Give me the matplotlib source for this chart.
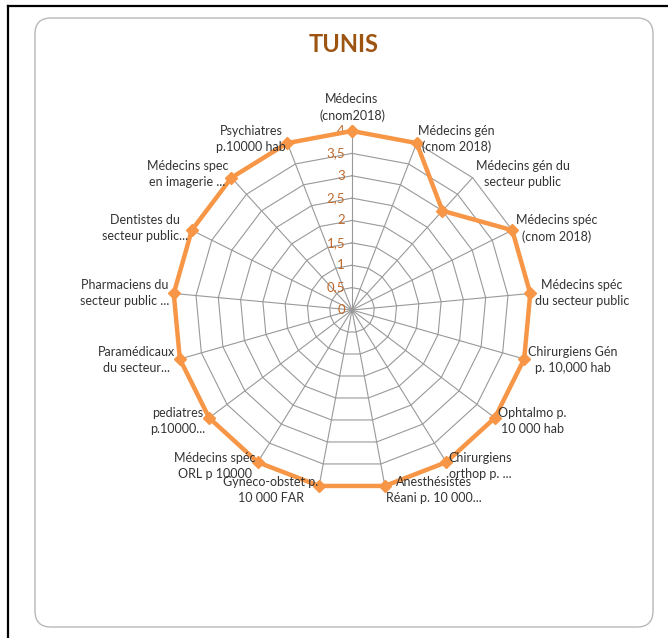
import matplotlib.pyplot as plt
from matplotlib.patches import FancyBboxPatch
from matplotlib.lines import Line2D
import numpy as np

# ---------------------- data ----------------------
categories = [
    "Médecins\n(cnom2018)",
    "Médecins gén\n(cnom 2018)",
    "Médecins gén du\nsecteur public",
    "Médecins spéc\n(cnom 2018)",
    "Médecins spéc\ndu secteur public",
    "Chirurgiens Gén\np. 10,000 hab",
    "Ophtalmo p.\n10 000 hab",
    "Chirurgiens\northop p. ...",
    "Anesthésistes\nRéani p. 10 000...",
    "Gyneco-obstet p.\n10 000 FAR",
    "Médecins spéc\nORL p 10000",
    "pediatres\np.10000...",
    "Paramédicaux\ndu secteur...",
    "Pharmaciens du\nsecteur public ...",
    "Dentistes du\nsecteur public...",
    "Médecins spec\nen imagerie ...",
    "Psychiatres\np.10000 hab",
]
values = [4, 4, 3, 4, 4, 4, 4, 4, 4, 4, 4, 4, 4, 4, 4, 4, 4]
levels = [0, 0.5, 1, 1.5, 2, 2.5, 3, 3.5, 4]
level_labels = ["0", "0,5", "1", "1,5", "2", "2,5", "3", "3,5", "4"]
title = "TUNIS"

line_color = "#F79646"
grid_color = "#999999"
axis_text_color = "#C0692B"
title_color = "#9C5410"

plt.rcParams['font.family'] = ['Lato', 'DejaVu Sans']

fig = plt.figure(figsize=(6.68, 6.38), dpi=100)

# frame: black lines on left/top and the rounded chart area (behind the axes)
fig.add_artist(Line2D([8 / 668, 8 / 668], [0, 1 - 6 / 638], color="black", lw=1.6,
                      transform=fig.transFigure, zorder=-5))
fig.add_artist(Line2D([8 / 668, 1], [1 - 6 / 638, 1 - 6 / 638], color="black", lw=1.6,
                      transform=fig.transFigure, zorder=-5))
box = FancyBboxPatch((0.35, 0.11), 6.18, 6.09,
                     boxstyle="round,pad=0,rounding_size=0.16",
                     transform=fig.dpi_scale_trans, facecolor="white",
                     edgecolor="#B8B8B8", lw=1.0, zorder=-5)
fig.add_artist(box)

fig.text(344 / 668, 1 - 44 / 638, title, ha="center", va="center",
         fontsize=17, fontweight="bold", color=title_color)

# radar axes
ax = fig.add_axes([173 / 668, 149 / 638, 358 / 668, 358 / 638], projection="polar")
ax.set_theta_offset(np.pi / 2)
ax.set_theta_direction(-1)
ax.set_ylim(0, 4)
ax.grid(False)
ax.spines['polar'].set_visible(False)
ax.set_xticks([])
ax.set_yticks([])
ax.patch.set_alpha(0)

n = len(categories)
angles = np.arange(n) * 2 * np.pi / n
closed = np.append(angles, angles[0])

# polygon grid
for lv in levels[1:]:
    ax.plot(closed, [lv] * (n + 1), color=grid_color, lw=0.8, zorder=1, clip_on=False)
for a in angles:
    ax.plot([a, a], [0, levels[-1]], color=grid_color, lw=0.8, zorder=1, clip_on=False)

# radial value labels
for lv, lbl in zip(levels, level_labels):
    ax.annotate(lbl, xy=(0, lv), xytext=(-5, 0), textcoords="offset points",
                ha="right", va="center", fontsize=9.5, color=axis_text_color)

# data series
ax.plot(closed, np.append(values, values[0]), color=line_color, lw=3.2,
        marker="D", markersize=6.5, zorder=3, clip_on=False)

# category labels
for a, lbl in zip(angles, categories):
    s, c = np.sin(a), np.cos(a)
    if abs(s) < 0.05:
        ha, va, r = "center", "bottom", 4.2
    else:
        ha = "left" if s > 0 else "right"
        va, r = "center", 4.1
    ax.text(a, r, lbl, ha=ha, va=va, fontsize=9, color="#333333",
            multialignment="center", linespacing=1.4, clip_on=False, zorder=4)

fig.savefig("out.png", dpi=100)
